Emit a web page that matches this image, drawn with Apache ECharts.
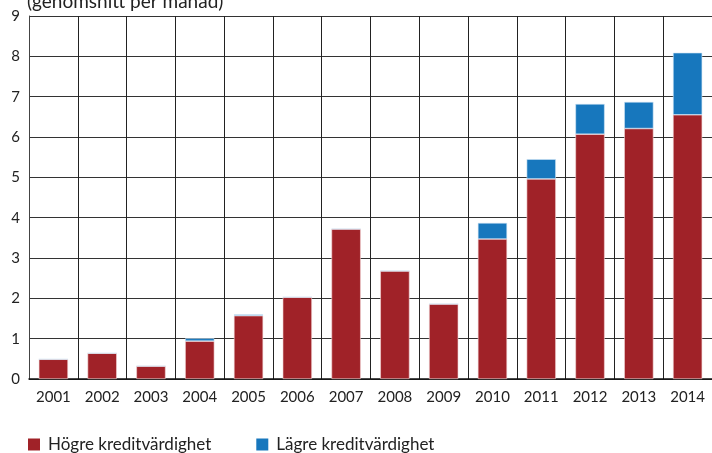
<!DOCTYPE html>
<html>
<head>
<meta charset="utf-8">
<script src="https://cdn.jsdelivr.net/npm/echarts@6/dist/echarts.min.js"></script>
<style>
  html, body { margin: 0; padding: 0; background: #fff; }
  #chart { width: 712px; height: 453px; }
</style>
</head>
<body>
<div id="chart"></div>
<script>
// Years on the category axis
const years = ['2001','2002','2003','2004','2005','2006','2007','2008','2009','2010','2011','2012','2013','2014'];
// Higher credit rating (monthly average)
const hogre = [0.49, 0.64, 0.32, 0.94, 1.57, 2.03, 3.72, 2.68, 1.86, 3.47, 4.96, 6.07, 6.21, 6.55];
// Lower credit rating (monthly average)
const lagre = [0, 0, 0, 0.07, 0.03, 0, 0, 0, 0, 0.40, 0.49, 0.75, 0.66, 1.54];
const yTicks = [0, 1, 2, 3, 4, 5, 6, 7, 8, 9];

const font = 'Lato, "Open Sans", sans-serif';
const chart = echarts.init(document.getElementById('chart'), null, { renderer: 'canvas' });

chart.setOption({
  animation: false,
  textStyle: { fontFamily: font },
  title: {
    text: '(genomsnitt per månad)',
    left: 22,
    top: -13,
    padding: 5,
    textStyle: { fontFamily: font, fontSize: 19, fontWeight: 'normal', color: '#222' }
  },
  grid: { left: 29, right: 0, top: 16, bottom: 74, containLabel: false },
  legend: {
    left: 23,
    top: 431,
    itemWidth: 12,
    itemHeight: 12,
    itemGap: 45,
    icon: 'rect',
    itemStyle: { borderWidth: 0 },
    textStyle: { fontFamily: font, fontSize: 17, color: '#222', padding: [0, 0, 0, 3] },
    data: ['Högre kreditvärdighet', 'Lägre kreditvärdighet']
  },
  xAxis: {
    type: 'category',
    data: years,
    boundaryGap: true,
    axisLine: { show: true, lineStyle: { color: '#111', width: 1.5 } },
    axisTick: { show: false },
    axisLabel: { fontFamily: font, fontSize: 15, color: '#222', margin: 11 },
    splitLine: { show: true, lineStyle: { color: '#222', width: 1 } }
  },
  yAxis: {
    type: 'value',
    min: yTicks[0],
    max: yTicks[yTicks.length - 1],
    interval: 1,
    axisLine: { show: true, lineStyle: { color: '#444', width: 1 } },
    axisTick: { show: false },
    axisLabel: { fontFamily: font, fontSize: 15, color: '#222', margin: 9 },
    splitLine: { show: true, lineStyle: { color: '#333', width: 1 } }
  },
  series: [
    {
      name: 'Högre kreditvärdighet',
      type: 'bar',
      stack: 'total',
      data: hogre,
      barCategoryGap: '40%',
      itemStyle: { color: '#A02228', borderColor: '#f3d6d8', borderWidth: 0.6 }
    },
    {
      name: 'Lägre kreditvärdighet',
      type: 'bar',
      stack: 'total',
      data: lagre,
      barCategoryGap: '40%',
      itemStyle: { color: '#1777BD', borderColor: '#d3e6f5', borderWidth: 0.6 }
    }
  ]
});
</script>
</body>
</html>
